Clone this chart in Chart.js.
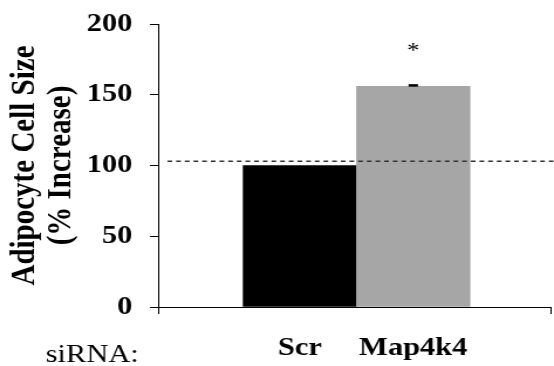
<!DOCTYPE html>
<html>
<head>
<meta charset="utf-8">
<script src="https://cdn.jsdelivr.net/npm/chart.js@4.4.1/dist/chart.umd.min.js"></script>
<style>
  html, body { margin: 0; padding: 0; background: #fff; overflow: hidden; }
  #chart { display: block; }
</style>
</head>
<body>
<!-- la figure d'origine est étirée horizontalement : canvas plus étroit, étiré en CSS -->
<canvas id="chart" width="473" height="366" style="width:554px;height:366px"></canvas>
<script>
// Données
const categories = ['Scr', 'Map4k4'];
const cellSize = [100, 156];
const cellSizeErr = [0, 0.6];
const stars = ['', '*'];
const yTicks = [0, 50, 100, 150, 200];
const refLevel = 103;
const xPrefix = 'siRNA:';

const barColors = ['#000000', '#a6a6a6'];
const serif = '"Liberation Serif", "Times New Roman", serif';

Chart.defaults.font.family = serif;
Chart.defaults.color = '#000';

// Ligne pointillée, barres d'erreur, astérisque et "siRNA:"
const extras = {
    id: 'extras',
    afterDatasetsDraw(chart) {
        const ctx = chart.ctx;
        const x = chart.scales.x;
        const y = chart.scales.y;
        const area = chart.chartArea;
        ctx.save();

        // ligne de référence
        const yRef = y.getPixelForValue(refLevel);
        ctx.strokeStyle = '#333';
        ctx.lineWidth = 1.6;
        ctx.setLineDash([4, 3.4]);
        ctx.beginPath();
        ctx.moveTo(area.left + 8, yRef);
        ctx.lineTo(chart.width, yRef);
        ctx.stroke();
        ctx.setLineDash([]);

        // barres d'erreur + astérisque
        ctx.strokeStyle = '#000';
        ctx.fillStyle = '#000';
        cellSize.forEach((v, i) => {
            const cx = x.getPixelForValue(i);
            const top = y.getPixelForValue(v + cellSizeErr[i]);
            if (cellSizeErr[i] > 0) {
                ctx.lineWidth = 1;
                ctx.beginPath();
                ctx.moveTo(cx, y.getPixelForValue(v));
                ctx.lineTo(cx, top);
                ctx.stroke();
                ctx.lineWidth = 2.5;
                ctx.beginPath();
                ctx.moveTo(cx - 4, top);
                ctx.lineTo(cx + 4, top);
                ctx.stroke();
            }
            if (stars[i]) {
                ctx.font = '21px ' + serif;
                ctx.textAlign = 'center';
                ctx.textBaseline = 'alphabetic';
                ctx.fillText(stars[i], cx, top - 28);
            }
        });

        // préfixe de l'axe x
        ctx.font = '26px ' + serif;
        ctx.textAlign = 'left';
        ctx.textBaseline = 'alphabetic';
        ctx.fillText(xPrefix, 39, 362);
        ctx.restore();
    }
};

const ctx = document.getElementById('chart').getContext('2d');
const myChart = new Chart(ctx, {
    type: 'bar',
    data: {
        datasets: [{
            data: cellSize.map((v, i) => ({ x: i, y: v })),
            backgroundColor: barColors,
            borderWidth: 0,
            barPercentage: 1,
            categoryPercentage: 1
        }]
    },
    options: {
        responsive: false,
        maintainAspectRatio: false,
        devicePixelRatio: 1,
        animation: false,
        layout: {
            padding: { left: 7, right: 3, top: 24, bottom: 0 }
        },
        plugins: {
            legend: { display: false },
            tooltip: { enabled: false }
        },
        scales: {
            x: {
                type: 'linear',
                min: -1.25,
                max: 2.21,
                offset: false,
                afterBuildTicks: (axis) => {
                    axis.ticks = [-1.25, 0, 1, 2.21].map(v => ({ value: v }));
                },
                afterFit: (axis) => {
                    axis.height = 59;
                    axis.paddingLeft = 0;
                    axis.paddingRight = 0;
                },
                ticks: {
                    autoSkip: false,
                    maxRotation: 0,
                    padding: 19,
                    font: { size: 26, weight: 'bold' },
                    callback: (v) => categories[v] || ''
                },
                grid: {
                    display: true,
                    offset: false,
                    drawOnChartArea: false,
                    drawTicks: true,
                    tickLength: 7,
                    tickColor: (c) => (c.index === 0 || c.index === 3) ? '#000' : 'rgba(0,0,0,0)'
                },
                border: { display: true, color: '#000', width: 1 }
            },
            y: {
                min: 0,
                max: 200,
                afterBuildTicks: (axis) => {
                    axis.ticks = yTicks.map(v => ({ value: v }));
                },
                afterFit: (axis) => {
                    axis.width = 128;
                    axis.paddingTop = 0;
                    axis.paddingBottom = 0;
                },
                ticks: {
                    padding: 15,
                    font: { size: 26, weight: 'bold' }
                },
                grid: {
                    display: true,
                    drawOnChartArea: false,
                    drawTicks: true,
                    tickLength: 7,
                    tickColor: '#000'
                },
                border: { display: true, color: '#000', width: 1 },
                title: {
                    display: true,
                    text: ['Adipocyte Cell Size', '(% Increase)'],
                    font: { size: 29, weight: 'bold', lineHeight: 1.035 },
                    padding: { top: 0, bottom: 7 }
                }
            }
        }
    },
    plugins: [extras]
});
</script>
</body>
</html>
